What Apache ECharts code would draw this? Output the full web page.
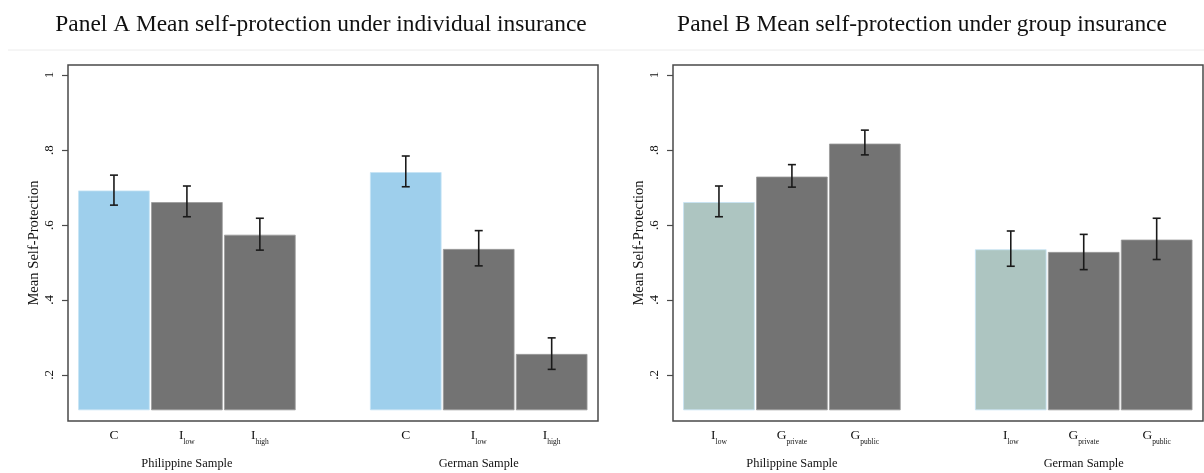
<!DOCTYPE html>
<html>
<head>
<meta charset="utf-8">
<script src="https://cdn.jsdelivr.net/npm/echarts@6/dist/echarts.min.js"></script>
<style>html,body{margin:0;padding:0;background:#fff;}#c{width:1204px;height:473px;}</style>
</head>
<body>
<div id="c"></div>
<script>
// ---- data ----
const groups = ['Philippine Sample', 'German Sample'];
const catsA = ['C', 'I low', 'I high'];
const catsB = ['I low', 'G private', 'G public'];
// Panel A (individual insurance): Philippine C, I_low, I_high, German C, I_low, I_high
const meanA = [0.691, 0.660, 0.573, 0.740, 0.535, 0.255];
const lowA  = [0.653, 0.622, 0.533, 0.702, 0.491, 0.215];
const highA = [0.733, 0.704, 0.618, 0.784, 0.585, 0.299];
// Panel B (group insurance): Philippine I_low, G_private, G_public, German I_low, G_private, G_public
const meanB = [0.660, 0.728, 0.816, 0.534, 0.527, 0.560];
const lowB  = [0.622, 0.701, 0.787, 0.490, 0.481, 0.508];
const highB = [0.704, 0.761, 0.853, 0.584, 0.575, 0.618];
const yTicks = [0.2, 0.4, 0.6, 0.8, 1];
const yTickLabels = ['.2', '.4', '.6', '.8', '1'];
const barBase = 0.107;
const titles = ['Panel A Mean self-protection under individual insurance',
                'Panel B Mean self-protection under group insurance'];

// ---- styling ----
const FONT = 'Liberation Serif';
const GRAY = '#737373';
const accents = ['#9ecfec', '#adc5c1'];
const slot = (k) => Math.floor(k / 3) * 4 + (k % 3);  // leave an empty slot between groups

function catLabel(s) {
  const parts = s.split(' ');
  return parts.length > 1 ? '{m|' + parts[0] + '}{s|' + parts[1] + '}' : '{m|' + parts[0] + '}';
}

const panels = [
  {cats: catsA, mean: meanA, low: lowA, high: highA, accent: accents[0], left: 68},
  {cats: catsB, mean: meanB, low: lowB, high: highB, accent: accents[1], left: 673}
];

const grid = [], xAxis = [], yAxis = [], series = [];
panels.forEach((p, gi) => {
  grid.push({left: p.left, top: 65, width: 530, height: 356, show: true,
             borderColor: '#4a4a4a', borderWidth: 1.5, backgroundColor: '#fff'});
  const labelVals = [0, 1, 2, 4, 5, 6];
  xAxis.push({
    type: 'value', gridIndex: gi, min: -0.63, max: 6.635,
    axisLine: {show: false, onZero: false}, axisTick: {show: false}, splitLine: {show: false},
    axisLabel: {
      customValues: labelVals, margin: 7,
      formatter: (v) => catLabel(p.cats[Math.round(v) % 4]),
      rich: {
        m: {fontFamily: FONT, fontSize: 13.5, color: '#111', lineHeight: 14, verticalAlign: 'top'},
        s: {fontFamily: FONT, fontSize: 7.5, color: '#111', lineHeight: 28, verticalAlign: 'middle'}
      }
    }
  });
  xAxis.push({
    type: 'value', gridIndex: gi, min: -0.63, max: 6.635, position: 'bottom',
    axisLine: {show: false, onZero: false}, axisTick: {show: false}, splitLine: {show: false},
    axisLabel: {
      customValues: [1, 5], margin: 37,
      formatter: (v) => groups[v > 3 ? 1 : 0],
      fontFamily: FONT, fontSize: 12.4, color: '#111'
    }
  });
  yAxis.push({
    type: 'value', gridIndex: gi, min: 0.0773, max: 1.0267,
    name: 'Mean Self-Protection', nameLocation: 'middle', nameRotate: 90, nameGap: 26,
    nameTextStyle: {fontFamily: FONT, fontSize: 14.6, color: '#111'},
    axisLine: {show: false, onZero: false}, splitLine: {show: false},
    axisTick: {show: true, customValues: yTicks, length: 6, lineStyle: {color: '#4a4a4a', width: 1.2}},
    axisLabel: {
      customValues: yTicks, rotate: 90, margin: 12,
      formatter: (v) => yTickLabels[yTicks.findIndex(t => Math.abs(t - v) < 1e-6)],
      fontFamily: FONT, fontSize: 13, color: '#111'
    }
  });
  const barData = p.mean.map((v, k) => [slot(k), v, k % 3]);
  series.push({
    type: 'custom', xAxisIndex: gi * 2, yAxisIndex: gi, data: barData,
    encode: {x: 0, y: 1},
    renderItem: (params, api) => {
      const x = api.value(0), v = api.value(1), idx = api.value(2);
      const a = api.coord([x - 0.485, barBase]);
      const b = api.coord([x + 0.485, v]);
      const fill = idx === 0 ? p.accent : GRAY;
      return {type: 'rect',
        shape: {x: a[0], y: b[1], width: b[0] - a[0], height: a[1] - b[1]},
        style: {fill: fill, stroke: idx === 0 ? '#c5e3f5' : '#9a9a9a', lineWidth: 0.8}};
    }
  });
  const errData = p.mean.map((v, k) => [slot(k), p.low[k], p.high[k]]);
  series.push({
    type: 'custom', xAxisIndex: gi * 2, yAxisIndex: gi, data: errData,
    encode: {x: 0, y: [1, 2]}, z: 5,
    renderItem: (params, api) => {
      const x = api.value(0);
      const lo = api.coord([x, api.value(1)]);
      const hi = api.coord([x, api.value(2)]);
      const st = {stroke: '#1a1a1a', lineWidth: 1.6};
      return {type: 'group', children: [
        {type: 'line', shape: {x1: lo[0], y1: lo[1], x2: hi[0], y2: hi[1]}, style: st},
        {type: 'line', shape: {x1: lo[0] - 4, y1: lo[1], x2: lo[0] + 4, y2: lo[1]}, style: st},
        {type: 'line', shape: {x1: hi[0] - 4, y1: hi[1], x2: hi[0] + 4, y2: hi[1]}, style: st}
      ]};
    }
  });
});

const chart = echarts.init(document.getElementById('c'), null, {renderer: 'canvas'});
chart.setOption({
  backgroundColor: '#fff',
  animation: false,
  title: [
    {text: titles[0], left: 316, top: 8, textAlign: 'center',
     textStyle: {fontFamily: FONT, fontSize: 23.4, fontWeight: 'normal', color: '#111'}},
    {text: titles[1], left: 917, top: 8, textAlign: 'center',
     textStyle: {fontFamily: FONT, fontSize: 23.4, fontWeight: 'normal', color: '#111'}}
  ],
  graphic: [{type: 'line', shape: {x1: 8, y1: 50, x2: 1204, y2: 50}, style: {stroke: '#ececec', lineWidth: 1}}],
  grid: grid, xAxis: xAxis, yAxis: yAxis, series: series
});
</script>
</body>
</html>
